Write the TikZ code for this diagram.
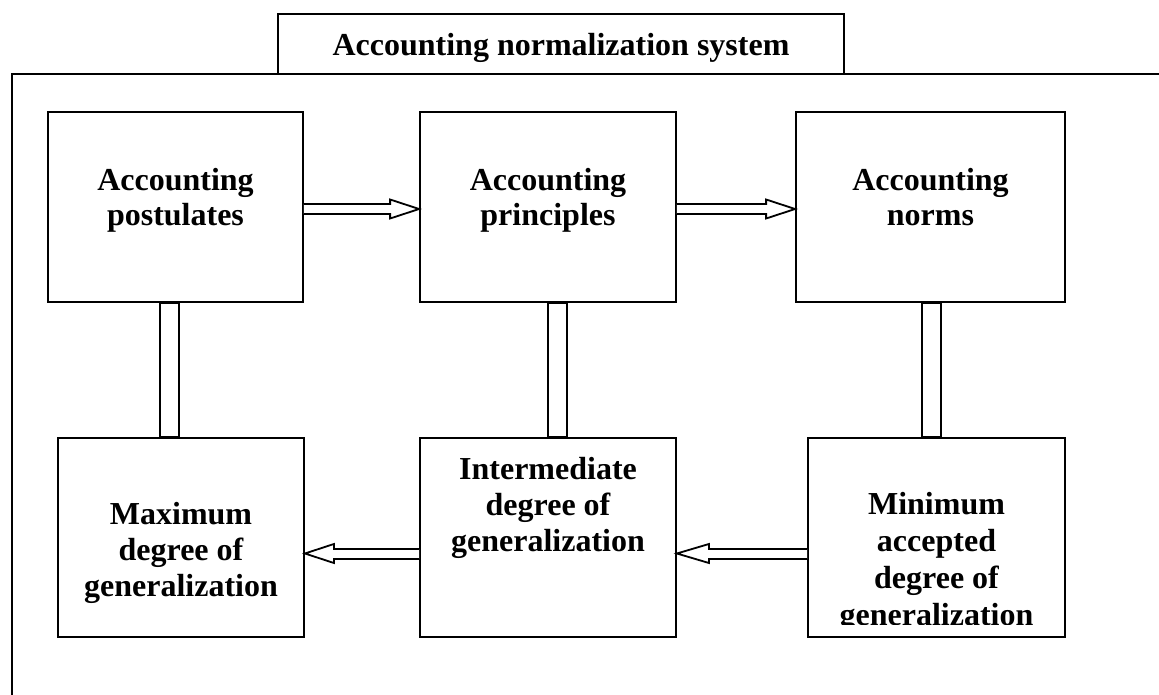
\documentclass[tikz,border=0pt]{standalone}
\usepackage{fontspec}
\setmainfont{Liberation Serif}
\usetikzlibrary{calc}
\begin{document}
\begin{tikzpicture}[x=1pt,y=-1pt,
  frame/.style={draw=black,line width=1.8pt},
  box/.style={draw=black,line width=1.8pt,inner sep=0pt,fill=white},
  lbl/.style={font=\fontsize{32}{35}\selectfont\bfseries,align=center,inner sep=0pt,anchor=north},
  lblwide/.style={lbl,font=\fontsize{32}{36}\selectfont\bfseries},
  conn/.style={draw=black,line width=1.8pt,fill=white,line join=miter}]
\path[use as bounding box] (0,0) rectangle (1159,695);
\clip (0,0) rectangle (1159,695);

% outer frame, running off the right and bottom edges
\draw[frame] (1170,74) -- (12,74) -- (12,710);

% title tab
\node[box,minimum width=566,minimum height=60] (title) at (561,44) {};
\node[lbl] (ttitle) at (561,33) {Accounting normalization system};

% upper row
\node[box,minimum width=255,minimum height=190] (b1) at (175.5,207) {};
\node[box,minimum width=256,minimum height=190] (b2) at (548,207) {};
\node[box,minimum width=269,minimum height=190] (b3) at (930.5,207) {};

% lower row
\node[box,minimum width=246,minimum height=199] (b4) at (181,537.5) {};
\node[box,minimum width=256,minimum height=199] (b5) at (548,537.5) {};
\node[box,minimum width=257,minimum height=199] (b6) at (936.5,537.5) {};

% labels
\node[lbl] (t1) at (175.5,168) {Accounting\\postulates};
\node[lbl] (t2) at (548,168) {Accounting\\principles};
\node[lbl] (t3) at (930.5,168) {Accounting\\norms};
\node[lblwide] (t4) at (181,502) {Maximum\\degree of\\generalization};
\node[lblwide] (t5) at (548,457) {Intermediate\\degree of\\generalization};
\begin{scope}
  \clip (b6.north west) rectangle ($(b6.south east)+(0,-13)$);
  \node[lbl,font=\fontsize{32}{37}\selectfont\bfseries] (t6) at (936.5,492)
    {Minimum\\accepted\\degree of\\generalization};
\end{scope}

% hollow block arrows along the upper row
\draw[conn] ($(b1.east)+(0,-3)$) -- ($(b2.west)+(-29,-3)$) -- ($(b2.west)+(-29,-7.5)$)
  -- ($(b2.west)+(0,2)$) -- ($(b2.west)+(-29,11.5)$) -- ($(b2.west)+(-29,7)$)
  -- ($(b1.east)+(0,7)$);
\draw[conn] ($(b2.east)+(0,-3)$) -- ($(b3.west)+(-29,-3)$) -- ($(b3.west)+(-29,-7.5)$)
  -- ($(b3.west)+(0,2)$) -- ($(b3.west)+(-29,11.5)$) -- ($(b3.west)+(-29,7)$)
  -- ($(b2.east)+(0,7)$);

% hollow block arrows along the lower row, pointing left
\draw[conn] ($(b6.west)+(0,11.5)$) -- ($(b5.east)+(32,11.5)$) -- ($(b5.east)+(32,6.5)$)
  -- ($(b5.east)+(0,16)$) -- ($(b5.east)+(32,25.5)$) -- ($(b5.east)+(32,21.5)$)
  -- ($(b6.west)+(0,21.5)$);
\draw[conn] ($(b5.west)+(0,11.5)$) -- ($(b4.east)+(29,11.5)$) -- ($(b4.east)+(29,6.5)$)
  -- ($(b4.east)+(0,16)$) -- ($(b4.east)+(29,25.5)$) -- ($(b4.east)+(29,21.5)$)
  -- ($(b5.west)+(0,21.5)$);

% vertical double-line links between the rows
\draw[conn] ($(b1.south)+(-15.5,0)$) rectangle ($(b4.north)+(-2,0)$);
\draw[conn] ($(b2.south)+(0,0)$) rectangle ($(b5.north)+(19,0)$);
\draw[conn] ($(b3.south)+(-8.5,0)$) rectangle ($(b6.north)+(4.5,0)$);
\end{tikzpicture}
\end{document}
